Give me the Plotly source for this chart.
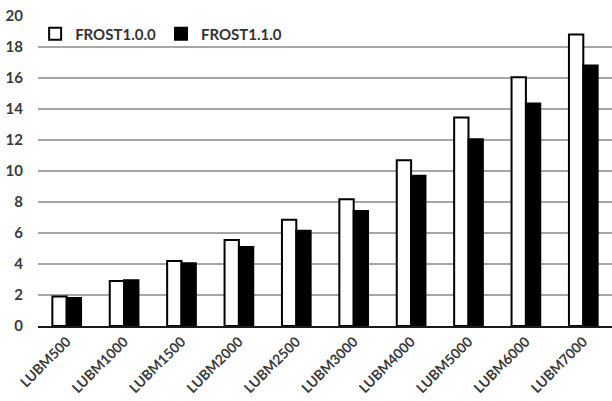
import plotly.graph_objects as go

categories = ["LUBM500", "LUBM1000", "LUBM1500", "LUBM2000", "LUBM2500",
              "LUBM3000", "LUBM4000", "LUBM5000", "LUBM6000", "LUBM7000"]
frost100 = [1.9, 2.9, 4.2, 5.55, 6.85, 8.17, 10.7, 13.45, 16.05, 18.8]
frost110 = [1.8, 2.95, 4.05, 5.1, 6.15, 7.42, 9.7, 12.05, 14.35, 16.8]
y_ticks = [0, 2, 4, 6, 8, 10, 12, 14, 16, 18, 20]

font_fam = "Lato, Open Sans, Liberation Sans, Arial, sans-serif"

fig = go.Figure()
fig.add_trace(go.Bar(x=categories, y=frost100, name="FROST1.0.0",
                     marker=dict(color="white", line=dict(color="black", width=2))))
fig.add_trace(go.Bar(x=categories, y=frost110, name="FROST1.1.0",
                     marker=dict(color="black", line=dict(color="black", width=2))))

fig.update_layout(
    width=612, height=401,
    margin=dict(l=38, r=0, t=16, b=75),
    plot_bgcolor="white", paper_bgcolor="white",
    barmode="group", bargap=0.5, bargroupgap=0,
    font=dict(family=font_fam, size=14, color="#3a3a3a"),
    legend=dict(orientation="h", x=-0.005, y=0.995, xanchor="left", yanchor="top",
                bgcolor="rgba(255,255,255,0)",
                font=dict(size=15, color="#333333", weight="bold"),
                itemwidth=30, traceorder="normal"),
    showlegend=True,
)
fig.update_yaxes(range=[0, 20], tickvals=y_ticks, showgrid=True,
                 gridcolor="#a6a6a6", gridwidth=1.5, zeroline=False,
                 showline=False, ticks="", ticklen=0, automargin=False,
                 ticklabelstandoff=14,
                 tickfont=dict(size=15, color="#3a3a3a", weight="bold"))
fig.update_xaxes(showline=True, linecolor="#1a1a1a", linewidth=2,
                 tickangle=-45, ticks="", automargin=False,
                 ticklabelstandoff=0,
                 tickfont=dict(size=14, color="#3a3a3a", weight="bold"))

fig.write_html("out.html", config={"displayModeBar": False},
               post_script="document.body.style.margin='0';document.body.style.overflow='hidden';")
